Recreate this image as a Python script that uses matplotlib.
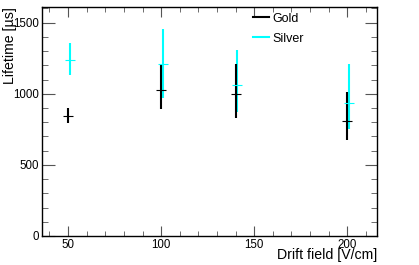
import matplotlib
matplotlib.use("Agg")
import matplotlib.pyplot as plt
import numpy as np
from matplotlib.ticker import MultipleLocator
from matplotlib.lines import Line2D

plt.rcParams['font.family'] = ['Liberation Sans', 'DejaVu Sans']

# Data
gold_x = [50, 100, 140, 200]
gold_y = [847, 1029, 996, 812]
gold_lo = [791, 896, 833, 674]
gold_hi = [903, 1200, 1207, 1013]

silver_x = [51, 101, 141, 201]
silver_y = [1240, 1212, 1060, 935]
silver_lo = [1135, 972, 872, 751]
silver_hi = [1359, 1453, 1305, 1212]

fig = plt.figure(figsize=(4.19, 2.65), dpi=100)
ax = fig.add_axes([42/419, 29/265, 335/419, 229/265])

def draw(x, y, lo, hi, color, label):
    y = np.array(y); lo = np.array(lo); hi = np.array(hi)
    err = [y - lo, hi - y]
    ax.errorbar(x, y, yerr=err, fmt='_', color=color, ecolor=color,
                elinewidth=1.5, capsize=0, markersize=7, markeredgewidth=0.8,
                label=label)

draw(silver_x, silver_y, silver_lo, silver_hi, '#00FFFF', 'Silver')
draw(gold_x, gold_y, gold_lo, gold_hi, 'black', 'Gold')

ax.set_xlim(36, 216)
ax.set_ylim(0, 1610)

ax.xaxis.set_major_locator(MultipleLocator(50))
ax.xaxis.set_minor_locator(MultipleLocator(10))
ax.yaxis.set_major_locator(MultipleLocator(500))
ax.yaxis.set_minor_locator(MultipleLocator(100))
ax.tick_params(which='both', direction='in', top=True, right=True,
               labelsize=8.3, color='#555555')
ax.tick_params(which='major', length=7, width=0.8, pad=2)
ax.tick_params(which='minor', length=3.5, width=0.6)
ax.tick_params(axis='y', which='major', length=9)
ax.tick_params(axis='y', which='minor', length=4)

for s in ax.spines.values():
    s.set_linewidth(1.0)
    s.set_color('black')

ax.set_xlabel('Drift field [V/cm]', loc='right', fontsize=10.2)
ax.set_ylabel('Lifetime [µs]', loc='top', fontsize=10.2)
ax.xaxis.set_label_coords(1.0, -0.053)
ax.yaxis.set_label_coords(-0.074, 1.0)

handles = [Line2D([], [], color='black', lw=1.5), Line2D([], [], color='#00FFFF', lw=1.5)]
ax.legend(handles, ['Gold', 'Silver'], loc='upper left', bbox_to_anchor=(0.63, 0.975),
          frameon=False, fontsize=9, handlelength=1.25, handletextpad=0.3,
          labelspacing=0.65, borderpad=0, borderaxespad=0)

fig.savefig('out.png', dpi=100)
